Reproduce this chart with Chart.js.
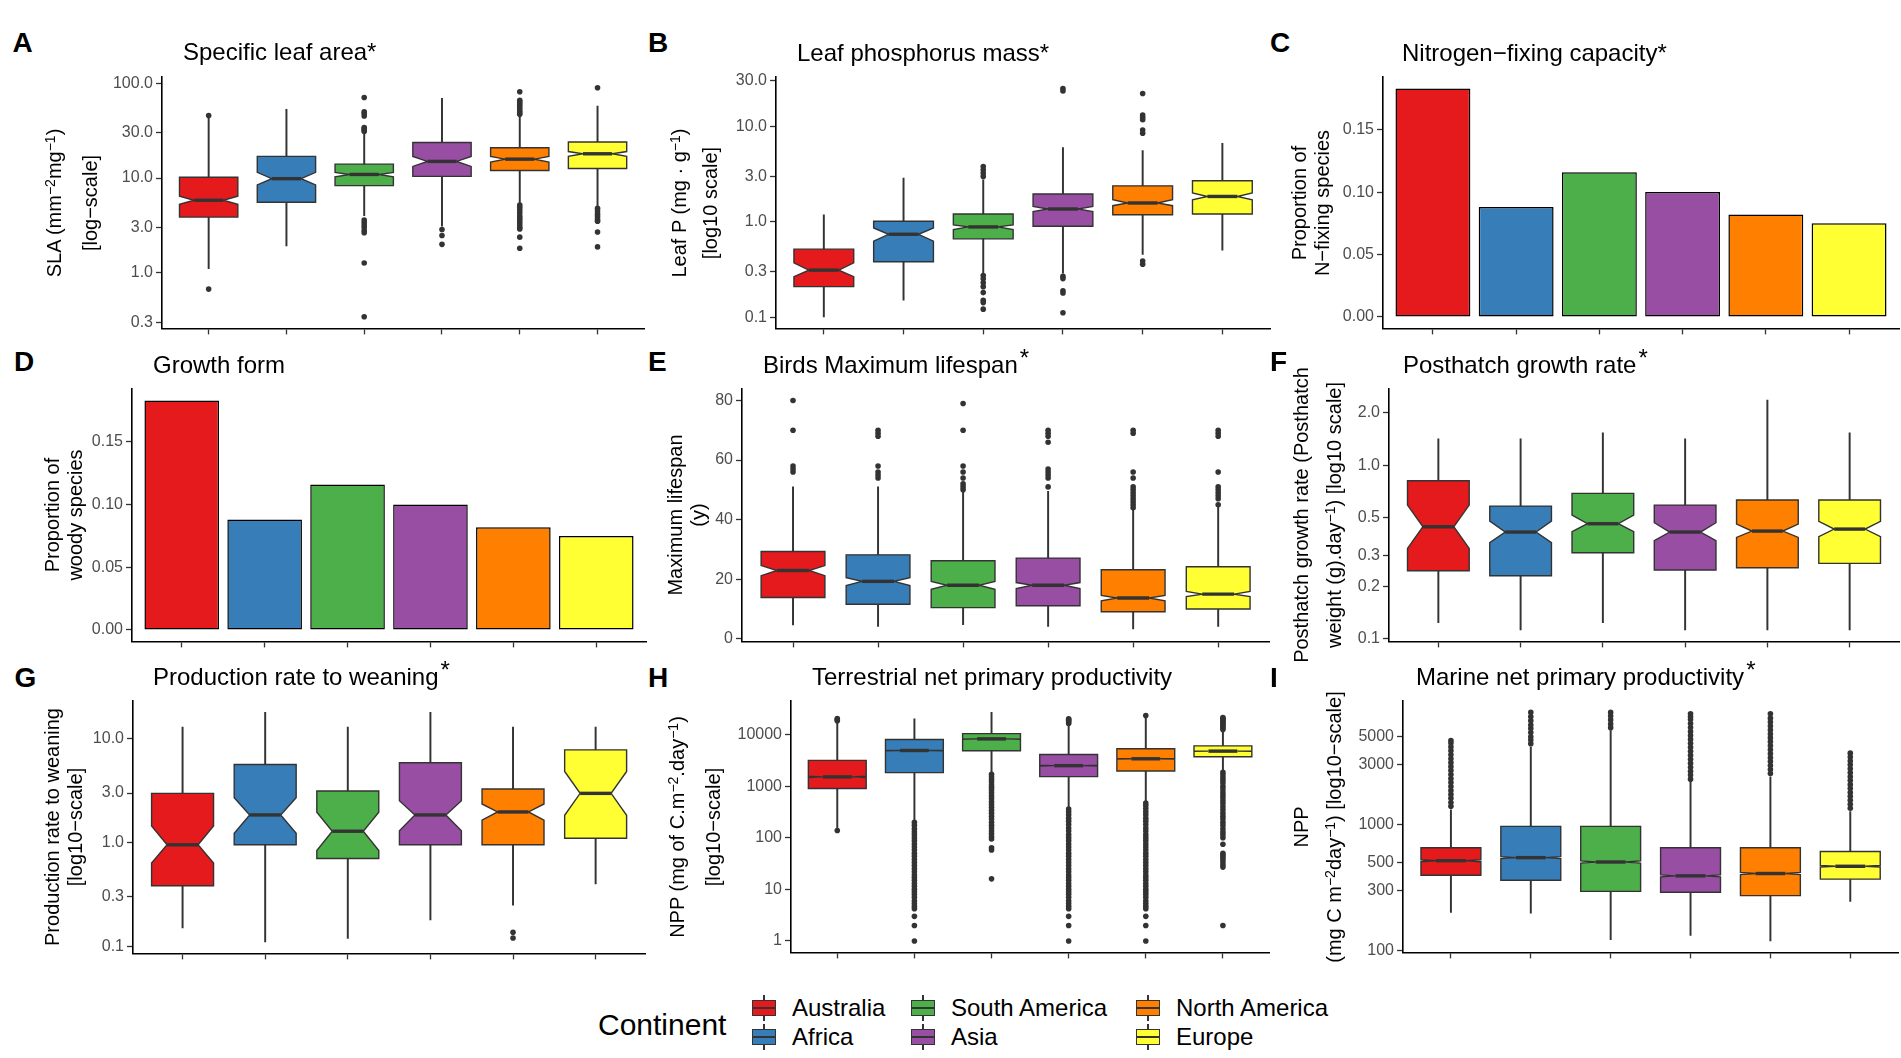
<!DOCTYPE html>
<html>
<head>
<meta charset="utf-8">
<script src="https://cdn.jsdelivr.net/npm/chart.js@4.4.1/dist/chart.umd.min.js"></script>
<style>
  body { margin:0; background:#fff; }
  #fig { position:relative; width:1901px; height:1058px; overflow:hidden;
         font-family:"Liberation Sans", Arial, Helvetica, sans-serif; color:#000; }
  .panel { position:absolute; }
  .lbl { position:absolute; font-weight:bold; font-size:28px; line-height:28px; }
  .ttl { position:absolute; font-size:24px; line-height:24px; white-space:nowrap; }
  .ttl .up { position:relative; top:-7px; margin-left:2px; }
  .ytl { position:absolute; width:440px; font-size:20px; text-align:center; white-space:nowrap;
         transform:rotate(-90deg); z-index:2; }
  sup { font-size:14px; line-height:0; vertical-align:0.45em; }
  .leg { position:absolute; white-space:nowrap; }
  .key { position:absolute; width:24px; height:16px; box-sizing:border-box; border:1.4px solid #333; }
  .key .med { position:absolute; left:0; right:0; top:5.5px; height:2px; background:#333; }
  .stub { position:absolute; width:1.4px; background:#333; }
</style>
</head>
<body>
<div id="fig"></div>
<script>
'use strict';

// continents and their Set1 colours
var continents = ['Australia', 'Africa', 'South America', 'Asia', 'North America', 'Europe'];
var colours = ['#E41A1C', '#377EB8', '#4DAF4A', '#984EA3', '#FF7F00', '#FFFF33'];

// A - specific leaf area
var slaLo = [1.11, 1.92, 4.0, 3.11, 5.5, 5.1];
var slaQ1 = [3.87, 5.56, 8.31, 10.4, 12.0, 12.6];
var slaNotchLo = [5.29, 8.45, 10.3, 13.25, 14.7, 16.9];
var slaMed = [5.83, 9.84, 10.9, 14.96, 15.8, 18.0];
var slaNotchHi = [6.43, 11.47, 11.47, 16.9, 16.9, 19.0];
var slaQ3 = [10.2, 16.9, 14.0, 23.7, 20.8, 24.0];
var slaHi = [43.6, 52.9, 30.0, 69.0, 45.0, 57.4];
var slaOut = [
  [45.6, 0.675],
  [],
  [70.6, 50, 47.7, 45, 34, 33, 32, 31, 3.6, 3.4, 3.2, 3.0, 2.8, 2.65, 1.27, 0.345],
  [2.87, 2.48, 2.0],
  [81, 66, 63, 60, 57, 54, 51, 49, 47, 5.2, 4.9, 4.6, 4.3, 4.0, 3.8, 3.6, 3.4, 3.2, 3.0, 2.9, 2.38, 1.82],
  [89.3, 4.8, 4.5, 4.2, 4.0, 3.8, 3.6, 3.5, 2.7, 1.88]
];
var slaTicks = [0.3, 1, 3, 10, 30, 100];
var slaTickLabels = ['0.3', '1.0', '3.0', '10.0', '30.0', '100.0'];

// B - leaf phosphorus
var lpLo = [0.101, 0.152, 0.28, 0.29, 0.456, 0.506];
var lpQ1 = [0.21, 0.383, 0.665, 0.901, 1.19, 1.21];
var lpNotchLo = [0.267, 0.628, 0.832, 1.282, 1.48, 1.71];
var lpMed = [0.313, 0.743, 0.887, 1.367, 1.58, 1.85];
var lpNotchHi = [0.373, 0.866, 0.931, 1.457, 1.71, 2.01];
var lpQ3 = [0.519, 1.016, 1.21, 1.96, 2.39, 2.70];
var lpHi = [1.19, 2.88, 2.77, 6.01, 5.6, 6.67];
var lpOut = [
  [],
  [],
  [3.81, 3.52, 3.25, 3.0, 0.275, 0.254, 0.231, 0.21, 0.182, 0.151, 0.143, 0.122],
  [25.0, 23.5, 0.27, 0.255, 0.19, 0.18, 0.112],
  [22.2, 13.2, 12.5, 11.8, 9.2, 8.5, 0.39, 0.36],
  []
];
var lpTicks = [0.1, 0.3, 1, 3, 10, 30];
var lpTickLabels = ['0.1', '0.3', '1.0', '3.0', '10.0', '30.0'];

// C - N-fixing proportion, D - woody proportion
var nfixProp = [0.183, 0.088, 0.116, 0.100, 0.082, 0.075];
var woodyProp = [0.183, 0.088, 0.116, 0.100, 0.082, 0.075];
var propTicks = [0, 0.05, 0.10, 0.15];
var propTickLabels = ['0.00', '0.05', '0.10', '0.15'];

// E - birds maximum lifespan
var lifeLo = [4.7, 4.2, 4.8, 4.2, 3.3, 4.2];
var lifeQ1 = [13.9, 11.6, 10.5, 11.1, 9.1, 10.0];
var lifeNotchLo = [21.2, 17.9, 16.6, 16.9, 12.8, 14.2];
var lifeMed = [22.95, 19.3, 18.0, 18.0, 13.7, 15.0];
var lifeNotchHi = [24.6, 20.5, 19.3, 18.9, 14.6, 15.9];
var lifeQ3 = [29.3, 28.2, 26.2, 27.1, 23.2, 24.2];
var lifeHi = [51.0, 51.0, 49.9, 49.5, 43.2, 44.9];
var lifeOut = [
  [80, 70, 58, 57, 56],
  [70, 69, 68, 58, 56, 55, 54],
  [79, 70, 58, 56, 54, 52, 51, 50],
  [70, 69, 68, 66, 57, 56, 55, 54, 51],
  [70, 69, 56, 54, 51, 50, 49, 48, 47, 46, 45, 44],
  [70, 69, 68, 56, 51, 50, 49, 48, 47, 45]
];
var lifeTicks = [0, 20, 40, 60, 80];
var lifeTickLabels = ['0', '20', '40', '60', '80'];

// F - posthatch growth rate
var phLo = [0.1231, 0.1117, 0.1231, 0.1117, 0.1117, 0.1117];
var phQ1 = [0.2457, 0.2299, 0.312, 0.2479, 0.2557, 0.2708];
var phNotchLo = [0.3305, 0.3564, 0.4125, 0.3661, 0.3825, 0.3859];
var phMed = [0.4406, 0.4107, 0.4587, 0.4107, 0.416, 0.4272];
var phNotchHi = [0.5877, 0.4753, 0.5147, 0.4649, 0.4566, 0.4732];
var phQ3 = [0.812, 0.5799, 0.6865, 0.5877, 0.6283, 0.6283];
var phHi = [1.419, 1.419, 1.537, 1.419, 2.371, 1.537];
var phOut = [[], [], [], [], [], []];
var phTicks = [0.1, 0.2, 0.3, 0.5, 1, 2];
var phTickLabels = ['0.1', '0.2', '0.3', '0.5', '1.0', '2.0'];

// G - production rate to weaning
var wnLo = [0.150, 0.110, 0.119, 0.179, 0.248, 0.398];
var wnQ1 = [0.383, 0.950, 0.702, 0.950, 0.950, 1.10];
var wnNotchLo = [0.633, 1.229, 0.838, 1.295, 1.640, 1.83];
var wnMed = [0.950, 1.845, 1.285, 1.845, 1.972, 2.98];
var wnNotchHi = [1.446, 2.708, 1.957, 2.535, 2.354, 4.85];
var wnQ3 = [2.98, 5.66, 3.14, 5.88, 3.28, 7.84];
var wnHi = [13.0, 18.0, 13.0, 18.0, 13.0, 13.0];
var wnOut = [[], [], [], [], [0.136, 0.120], []];
var wnTicks = [0.1, 0.3, 1, 3, 10];
var wnTickLabels = ['0.1', '0.3', '1.0', '3.0', '10.0'];

// H - terrestrial NPP
var tnppLo = [145, 215, 1850, 380, 490, 1900];
var tnppQ1 = [902, 1832, 4850, 1535, 1972, 3720];
var tnppNotchLo = [1470, 4850, 8150, 2460, 3340, 4740];
var tnppMed = [1512, 4920, 8260, 2500, 3400, 4780];
var tnppNotchHi = [1555, 4990, 8370, 2540, 3460, 4820];
var tnppQ3 = [3160, 8010, 10450, 4120, 5300, 6050];
var tnppHi = [17500, 20300, 26900, 15500, 22000, 11500];
var tnppOut = [
  [18500, 19500, 20500, 138],
  [200, 175, 150, 130, 115, 100, 88, 76, 66, 58, 50, 44, 38, 33, 29, 25, 22, 19, 17, 15, 13, 11.5, 10, 9, 8, 7, 6, 5.3, 4.7, 4.2, 3, 2, 1],
  [1700, 1500, 1350, 1200, 1050, 950, 850, 750, 650, 580, 500, 440, 390, 340, 300, 260, 230, 200, 175, 155, 135, 120, 105, 95, 64, 58, 16],
  [16500, 17500, 18500, 19500, 20300, 360, 320, 280, 240, 210, 180, 155, 135, 115, 100, 88, 76, 66, 58, 50, 44, 38, 33, 29, 25, 22, 19, 17, 15, 13, 11.5, 10, 9, 8, 7, 6, 5.3, 4.7, 4.2, 3, 2, 1],
  [23500, 470, 420, 370, 320, 280, 240, 210, 180, 155, 135, 115, 100, 88, 76, 66, 58, 50, 44, 38, 33, 29, 25, 22, 19, 17, 15, 13, 11.5, 10, 9, 8, 7, 6, 5.3, 4.7, 4.2, 3, 2, 1],
  [12500, 13500, 14500, 15500, 16500, 17500, 18500, 19500, 20500, 21500, 1850, 1650, 1450, 1300, 1150, 1000, 880, 770, 680, 600, 520, 460, 400, 350, 300, 260, 230, 200, 175, 150, 130, 115, 100, 75, 50, 46, 42, 38, 34, 30, 27, 2]
];
var tnppTicks = [1, 10, 100, 1000, 10000];
var tnppTickLabels = ['1', '10', '100', '1000', '10000'];

// I - marine NPP
var mnppLo = [201, 198, 122, 132, 119, 246];
var mnppQ1 = [396, 362, 295, 290, 273, 369];
var mnppNotchLo = [508, 537, 495, 385, 401, 460];
var mnppMed = [517, 547, 505, 392, 409, 467];
var mnppNotchHi = [526, 557, 515, 399, 417, 474];
var mnppQ3 = [655, 970, 970, 655, 655, 612];
var mnppHi = [1313, 4140, 5600, 2190, 2400, 1273];
var mnppOut = [
  [1400, 1500, 1620, 1740, 1870, 2010, 2160, 2320, 2500, 2690, 2890, 3110, 3340, 3590, 3860, 4150, 4460, 4670],
  [4400, 4700, 5000, 5400, 5800, 6200, 6700, 7200, 7800],
  [5900, 6300, 6800, 7300, 7800],
  [2300, 2480, 2660, 2860, 3080, 3310, 3560, 3830, 4120, 4430, 4760, 5120, 5500, 5920, 6360, 6840, 7200, 7600],
  [2550, 2740, 2950, 3170, 3400, 3660, 3930, 4230, 4550, 4890, 5260, 5650, 6080, 6530, 7020, 7600],
  [1350, 1450, 1560, 1680, 1800, 1940, 2080, 2240, 2400, 2580, 2780, 2990, 3210, 3450, 3700]
];
var mnppTicks = [100, 300, 500, 1000, 3000, 5000];
var mnppTickLabels = ['100', '300', '500', '1000', '3000', '5000'];

Chart.defaults.font.family = '"Liberation Sans", Arial, Helvetica, sans-serif';

var Y_W = 70, PAD_T = 14, PAD_R = 2, X_H = 12;
var fig = document.getElementById('fig');

// draws the notched box + median on top of the whisker bars
var notchBoxes = {
  id: 'notchBoxes',
  afterDatasetDraw: function (chart, args) {
    var ds = chart.data.datasets[args.index];
    if (!ds.stats) return;
    var s = ds.stats, xs = chart.scales.x, ys = chart.scales.y, ctx = chart.ctx;
    var py = function (v) { return ys.getPixelForValue(v); };
    s.q1.forEach(function (q1, i) {
      var xl = xs.getPixelForValue(i + 1 - 0.375), xr = xs.getPixelForValue(i + 1 + 0.375);
      var ind = (xr - xl) * 0.25;
      ctx.save();
      ctx.beginPath();
      ctx.moveTo(xl, py(s.q3[i]));
      ctx.lineTo(xl, py(s.nHi[i]));
      ctx.lineTo(xl + ind, py(s.med[i]));
      ctx.lineTo(xl, py(s.nLo[i]));
      ctx.lineTo(xl, py(q1));
      ctx.lineTo(xr, py(q1));
      ctx.lineTo(xr, py(s.nLo[i]));
      ctx.lineTo(xr - ind, py(s.med[i]));
      ctx.lineTo(xr, py(s.nHi[i]));
      ctx.lineTo(xr, py(s.q3[i]));
      ctx.closePath();
      ctx.fillStyle = colours[i];
      ctx.fill();
      ctx.lineWidth = 1.4;
      ctx.strokeStyle = '#333';
      ctx.stroke();
      ctx.beginPath();
      ctx.moveTo(xl + ind, py(s.med[i]));
      ctx.lineTo(xr - ind, py(s.med[i]));
      ctx.lineWidth = 3.4;
      ctx.stroke();
      ctx.restore();
    });
  }
};

function axisGrid() {
  return { display: true, offset: false, drawOnChartArea: false, drawTicks: true, tickLength: 6,
           tickWidth: 1.3, tickColor: '#333' };
}

function makeChart(p, datasets) {
  var left = p.l - Y_W, top = p.t - PAD_T;
  var w = p.r - p.l + Y_W + PAD_R, h = p.b - p.t + PAD_T + X_H;
  var div = document.createElement('div');
  div.className = 'panel';
  div.style.left = left + 'px'; div.style.top = top + 'px';
  div.style.width = w + 'px'; div.style.height = h + 'px';
  var cv = document.createElement('canvas');
  cv.width = w; cv.height = h;
  cv.style.width = w + 'px'; cv.style.height = h + 'px';
  div.appendChild(cv);
  fig.appendChild(div);

  new Chart(cv, {
    type: 'bar',
    data: { datasets: datasets },
    options: {
      responsive: false, animation: false, devicePixelRatio: 1,
      layout: { padding: { top: PAD_T, right: PAD_R, left: 0, bottom: 0 } },
      plugins: { legend: { display: false }, tooltip: { enabled: false } },
      scales: {
        x: {
          type: 'linear', min: 0.4, max: 6.6, bounds: 'data', offset: false,
          afterBuildTicks: function (s) { s.ticks = continents.map(function (c, i) { return { value: i + 1 }; }); },
          afterFit: function (s) { s.height = X_H; },
          ticks: { display: false },
          grid: axisGrid(),
          border: { display: true, color: '#000', width: 1.6 }
        },
        y: {
          type: p.yType, min: p.min, max: p.max, bounds: 'data', offset: false,
          afterBuildTicks: function (s) { s.ticks = p.ticks.map(function (v) { return { value: v }; }); },
          afterFit: function (s) { s.width = Y_W; },
          ticks: { callback: function (v, i) { return p.labels[i]; }, color: '#4d4d4d',
                   font: { size: 16 }, padding: 3, autoSkip: false, maxRotation: 0 },
          grid: axisGrid(),
          border: { display: true, color: '#000', width: 1.6 }
        }
      }
    },
    plugins: [notchBoxes]
  });
}

function boxPanel(p, st, out) {
  var whisk = continents.map(function (c, i) { return { x: i + 1, y: [st.lo[i], st.hi[i]] }; });
  var pts = [];
  out.forEach(function (arr, i) { arr.forEach(function (v) { pts.push({ x: i + 1, y: v }); }); });
  makeChart(p, [
    { type: 'scatter', data: pts, pointRadius: 2.8, pointHoverRadius: 2.8,
      backgroundColor: '#333', borderWidth: 0, order: 0 },
    { type: 'bar', label: 'whiskers', data: whisk, stats: st, backgroundColor: '#333',
      borderWidth: 0, barThickness: 1.3, grouped: false, order: 2 }
  ]);
}

function barPanel(p, vals) {
  makeChart(p, [
    { type: 'bar', data: vals.map(function (v, i) { return { x: i + 1, y: v }; }),
      backgroundColor: colours, borderColor: '#000', borderWidth: 1.5,
      borderSkipped: false, categoryPercentage: 1, barPercentage: 0.9, grouped: false }
  ]);
}

function stats(lo, q1, nLo, med, nHi, q3, hi) {
  return { lo: lo, q1: q1, nLo: nLo, med: med, nHi: nHi, q3: q3, hi: hi };
}

boxPanel({ l: 162, t: 77, r: 645, b: 329, yType: 'logarithmic', min: 0.26, max: 116,
           ticks: slaTicks, labels: slaTickLabels },
         stats(slaLo, slaQ1, slaNotchLo, slaMed, slaNotchHi, slaQ3, slaHi), slaOut);
boxPanel({ l: 776, t: 77, r: 1271, b: 329, yType: 'logarithmic', min: 0.0767, max: 33,
           ticks: lpTicks, labels: lpTickLabels },
         stats(lpLo, lpQ1, lpNotchLo, lpMed, lpNotchHi, lpQ3, lpHi), lpOut);
barPanel({ l: 1383, t: 77, r: 1899, b: 329, yType: 'linear', min: -0.00915, max: 0.1922,
           ticks: propTicks, labels: propTickLabels }, nfixProp);
barPanel({ l: 132, t: 389, r: 646, b: 642, yType: 'linear', min: -0.00915, max: 0.1922,
           ticks: propTicks, labels: propTickLabels }, woodyProp);
boxPanel({ l: 742, t: 389, r: 1270, b: 642, yType: 'linear', min: -0.85, max: 83.85,
           ticks: lifeTicks, labels: lifeTickLabels },
         stats(lifeLo, lifeQ1, lifeNotchLo, lifeMed, lifeNotchHi, lifeQ3, lifeHi), lifeOut);
boxPanel({ l: 1389, t: 389, r: 1899, b: 642, yType: 'logarithmic', min: 0.096, max: 2.75,
           ticks: phTicks, labels: phTickLabels },
         stats(phLo, phQ1, phNotchLo, phMed, phNotchHi, phQ3, phHi), phOut);
boxPanel({ l: 133, t: 701, r: 646, b: 954, yType: 'logarithmic', min: 0.0851, max: 23.2,
           ticks: wnTicks, labels: wnTickLabels },
         stats(wnLo, wnQ1, wnNotchLo, wnMed, wnNotchHi, wnQ3, wnHi), wnOut);
boxPanel({ l: 791, t: 701, r: 1270, b: 953, yType: 'logarithmic', min: 0.6, max: 44800,
           ticks: tnppTicks, labels: tnppTickLabels },
         stats(tnppLo, tnppQ1, tnppNotchLo, tnppMed, tnppNotchHi, tnppQ3, tnppHi), tnppOut);
boxPanel({ l: 1403, t: 701, r: 1899, b: 953, yType: 'logarithmic', min: 96.6, max: 9610,
           ticks: mnppTicks, labels: mnppTickLabels },
         stats(mnppLo, mnppQ1, mnppNotchLo, mnppMed, mnppNotchHi, mnppQ3, mnppHi), mnppOut);

// text: panel letters, titles, rotated y titles
function addText(cls, html, left, top, extra) {
  var d = document.createElement('div');
  d.className = cls;
  d.innerHTML = html;
  d.style.left = left + 'px';
  d.style.top = top + 'px';
  if (extra) for (var k in extra) d.style[k] = extra[k];
  fig.appendChild(d);
  return d;
}

[['A', 12.5, 53], ['B', 648, 53], ['C', 1270, 53],
 ['D', 14, 372], ['E', 648, 372], ['F', 1270, 372],
 ['G', 14.5, 688], ['H', 648, 688], ['I', 1270, 688]].forEach(function (l) {
  addText('lbl', l[0], l[1], l[2] - 23.7);
});

var star = '<span class="up">*</span>';
[['Specific leaf area*', 183, 60], ['Leaf phosphorus mass*', 797, 61],
 ['Nitrogen\u2212fixing capacity*', 1402, 61],
 ['Growth form', 153, 373], ['Birds Maximum lifespan' + star, 763, 373],
 ['Posthatch growth rate' + star, 1403, 373],
 ['Production rate to weaning' + star, 153, 685],
 ['Terrestrial net primary productivity', 812, 685],
 ['Marine net primary productivity' + star, 1416, 685]].forEach(function (t) {
  addText('ttl', t[0], t[1], t[2] - 20.3);
});

[[['SLA (mm<sup>\u22122</sup>mg<sup>\u22121</sup>)', '[log\u2212scale]'], 72, 203, 36],
 [['Leaf P (mg \u00b7 g<sup>\u22121</sup>)', '[log10 scale]'], 694.5, 203, 31],
 [['Proportion of', 'N\u2212fixing species'], 1310.5, 203, 23],
 [['Proportion of', 'woody species'], 63.5, 515, 23],
 [['Maximum lifespan', '(y)'], 686.5, 515, 23],
 [['Posthatch growth rate (Posthatch', 'weight (g).day<sup>\u22121</sup>) [log10 scale]'], 1317.5, 515, 33],
 [['Production rate to weaning', '[log10\u2212scale]'], 63.5, 827, 23],
 [['NPP (mg of C.m<sup>\u22122</sup>.day<sup>\u22121</sup>)', '[log10\u2212scale]'], 695, 827, 36],
 [['NPP', '(mg C m<sup>\u22122</sup>day<sup>\u22121</sup>) [log10\u2212scale]'], 1317.5, 827, 33]
].forEach(function (y) {
  addText('ytl', y[0].join('<br>'), y[1] - 220, y[2] - y[3],
          { height: (2 * y[3]) + 'px', lineHeight: y[3] + 'px' });
});

// legend
addText('leg', 'Continent', 598, 1010, { fontSize: '30px', lineHeight: '30px' });
var legCols = [752, 911, 1136], legRows = [1008, 1037];
continents.forEach(function (c, i) {
  var kx = legCols[Math.floor(i / 2)], ky = legRows[i % 2];
  addText('stub', '', kx + 11.3, ky - 13, { height: '5px' });
  addText('stub', '', kx + 11.3, ky + 8, { height: '5px' });
  addText('key', '<div class="med"></div>', kx, ky - 8, { background: colours[i] });
  addText('leg', c, kx + 40, ky - 12, { fontSize: '24px', lineHeight: '24px' });
});
</script>
</body>
</html>
